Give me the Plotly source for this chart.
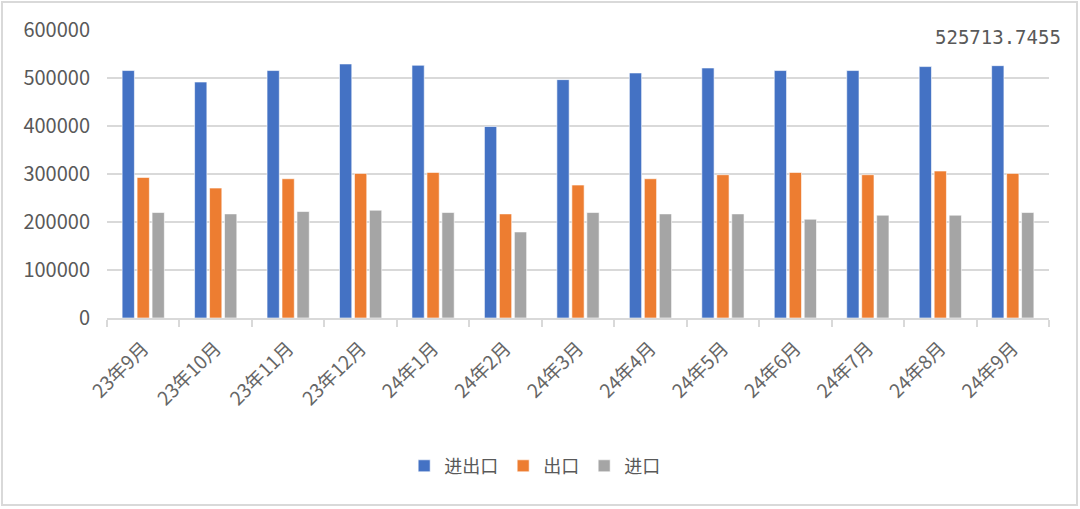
import plotly.graph_objects as go

months = ["23年9月", "23年10月", "23年11月", "23年12月", "24年1月", "24年2月", "24年3月",
          "24年4月", "24年5月", "24年6月", "24年7月", "24年8月", "24年9月"]
total = [515500, 491600, 515500, 529300, 526500, 398900, 496600,
         510500, 520900, 515500, 515500, 523800, 525713.7455]
exports = [292900, 270700, 290100, 301300, 303300, 216900, 277000,
           290100, 298500, 303300, 298500, 306200, 301300]
imports = [219700, 216900, 221800, 224600, 219700, 179300, 219700,
           216900, 216900, 205800, 214200, 214200, 219700]

W, H = 1080, 509
L, R, T, B = 107, 31, 30, 191
pw, ph = W - L - R, H - T - B

grey_txt = "#595959"
font_cjk = "Noto Sans CJK SC"

fig = go.Figure()
fig.add_trace(go.Bar(x=months, y=total, name="进出口", marker_color="#4472C4",
                     marker_line=dict(color="white", width=0.6)))
fig.add_trace(go.Bar(x=months, y=exports, name="出口", marker_color="#ED7D31",
                     marker_line=dict(color="white", width=0.6)))
fig.add_trace(go.Bar(x=months, y=imports, name="进口", marker_color="#A5A5A5",
                     marker_line=dict(color="white", width=0.6)))

fig.update_layout(
    width=W, height=H,
    margin=dict(l=L, r=R, t=T, b=B, autoexpand=False),
    paper_bgcolor="white", plot_bgcolor="white",
    barmode="group", bargap=0.38, bargroupgap=0.18,
    font=dict(family=font_cjk, color=grey_txt),
    legend=dict(orientation="h", x=0.454, xanchor="center", y=-0.45, yanchor="top",
                font=dict(size=18, color=grey_txt), itemwidth=30),
    showlegend=True,
)
fig.update_yaxes(range=[0, 600000], dtick=100000, showgrid=True, gridcolor="#d9d9d9",
                 gridwidth=1.5, zeroline=False, showline=False, ticks="",
                 tickfont=dict(size=20, color=grey_txt), ticklabelstandoff=16,
                 tickformat="d")
fig.update_xaxes(showline=True, linecolor="#d9d9d9", linewidth=1.5,
                 ticks="outside", tickson="boundaries", ticklen=7, tickcolor="#d9d9d9",
                 tickwidth=1.5, tickangle=-45, ticklabelstandoff=10,
                 tickfont=dict(size=19, color="#666666"))

# data label shown at top right
fig.add_annotation(x=(1063 - L) / pw, y=(H - B - 37) / ph, xref="paper", yref="paper",
                   text=f"{total[-1]:.4f}", showarrow=False, xanchor="right", yanchor="middle",
                   font=dict(family="DejaVu Sans Mono", size=19, color=grey_txt))

# outer border
fig.add_shape(type="rect", xref="paper", yref="paper",
              x0=(2 - L) / pw, x1=(W - 3 - L) / pw,
              y0=(H - B - (H - 4)) / ph, y1=(H - B - 2) / ph,
              line=dict(color="#d9d9d9", width=2), layer="below")

fig.write_html("out.html", config={"displayModeBar": False},
               post_script="document.body.style.margin='0';")
